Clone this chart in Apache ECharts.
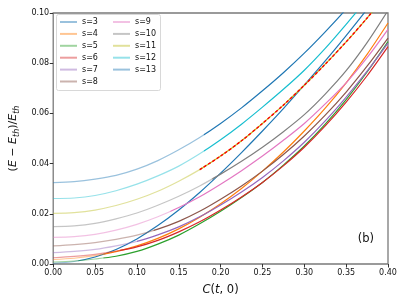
<!DOCTYPE html>
<html><head><meta charset="utf-8">
<script src="https://cdn.jsdelivr.net/npm/echarts@6/dist/echarts.min.js"></script>
<style>html,body{margin:0;padding:0;background:#fff}#c{width:407px;height:305px}</style>
</head><body><div id="c"></div>
<script>
// x positions where values were read
const xs = [0, 0.025, 0.05, 0.075, 0.10, 0.125, 0.15, 0.175, 0.20, 0.225, 0.25, 0.275, 0.30, 0.325, 0.35, 0.375, 0.40];
const sLabels = ['s=3','s=4','s=5','s=6','s=7','s=8','s=9','s=10','s=11','s=12','s=13'];
const y_s3  = [0.0003,0.0010,0.0028,0.0058,0.0100,0.0153,0.0215,0.0285,0.0362,0.0444,0.0530,0.0619,0.0713,0.0809,0.0910,0.1015,0.1125];
const y_s4  = [0.0018,0.0023,0.0033,0.0049,0.0072,0.0102,0.0140,0.0186,0.0240,0.0301,0.0370,0.0446,0.0530,0.0621,0.0722,0.0835,0.0960];
const y_s5  = [0.0008,0.0012,0.0020,0.0031,0.0050,0.0079,0.0115,0.0160,0.0210,0.0265,0.0325,0.0394,0.0470,0.0557,0.0655,0.0765,0.0886];
const y_s6  = [0.0025,0.0030,0.0038,0.0051,0.0068,0.0094,0.0128,0.0168,0.0215,0.0267,0.0325,0.0391,0.0465,0.0550,0.0645,0.0750,0.0866];
const y_s7  = [0.0045,0.0050,0.0058,0.0072,0.0090,0.0116,0.0148,0.0188,0.0235,0.0287,0.0345,0.0411,0.0485,0.0570,0.0665,0.0768,0.0880];
const y_s8  = [0.0072,0.0077,0.0085,0.0098,0.0115,0.0139,0.0170,0.0210,0.0258,0.0311,0.0370,0.0436,0.0510,0.0593,0.0685,0.0788,0.0900];
const y_s9  = [0.0106,0.0109,0.0118,0.0135,0.0158,0.0188,0.0225,0.0268,0.0318,0.0372,0.0430,0.0493,0.0560,0.0638,0.0722,0.0822,0.0935];
const y_s10 = [0.0149,0.0152,0.0162,0.0180,0.0203,0.0234,0.0270,0.0311,0.0358,0.0409,0.0465,0.0527,0.0595,0.0677,0.0770,0.0882,0.1010];
const y_s11 = [0.0202,0.0205,0.0215,0.0233,0.0258,0.0290,0.0330,0.0376,0.0430,0.0491,0.0560,0.0633,0.0712,0.0796,0.0885,0.0980,0.1080];
const y_s12 = [0.0261,0.0263,0.0273,0.0292,0.0318,0.0351,0.0390,0.0439,0.0495,0.0557,0.0625,0.0696,0.0772,0.0859,0.0955,0.1055,0.1160];
const y_s13 = [0.0324,0.0328,0.0338,0.0353,0.0378,0.0412,0.0455,0.0504,0.0560,0.0622,0.0690,0.0762,0.0840,0.0925,0.1015,0.1110,0.1210];
// x where each curve turns from faint to full
const solidFrom = [0.03, 0.06, 0.06, 0.08, 0.10, 0.12, 0.14, 0.19, 0.175, 0.18, 0.18];
// red dashed curve over s=11
const fitX = [0.175, 0.20, 0.225, 0.25, 0.275, 0.30, 0.325, 0.35, 0.375, 0.40];
const fitY = [0.0376, 0.0430, 0.0491, 0.0560, 0.0633, 0.0712, 0.0796, 0.0885, 0.0980, 0.1080];

const allY = [y_s3,y_s4,y_s5,y_s6,y_s7,y_s8,y_s9,y_s10,y_s11,y_s12,y_s13];
const colors = ['#1f77b4','#ff7f0e','#2ca02c','#d62728','#9467bd','#8c564b','#e377c2','#7f7f7f','#bcbd22','#17becf','#1f77b4'];
function fade(hex, a){const n=parseInt(hex.slice(1),16);return 'rgba('+(n>>16)+','+((n>>8)&255)+','+(n&255)+','+a+')';}

function buildSeries(gradFn){
  const series = allY.map((ys, i) => ({
    name: sLabels[i], type: 'line', symbol: 'none', showSymbol: false, smooth: 0.3,
    lineStyle: {width: 1.2, color: gradFn ? gradFn(i) : colors[i]},
    itemStyle: {color: fade(colors[i], 0.55)},
    data: xs.map((x, k) => [x, ys[k]]), z: 2
  }));
  series.push({
    name: 'fit', type: 'line', symbol: 'none', showSymbol: false, smooth: 0.3,
    lineStyle: {width: 1.4, color: '#ff0000', type: [3, 2]},
    data: fitX.map((x, k) => [x, fitY[k]]), z: 3
  });
  return series;
}

const chart = echarts.init(document.getElementById('c'), null, {renderer: 'canvas'});
const font = 'DejaVu Sans';
const legendCommon = {orient: 'vertical', top: 18, itemWidth: 17, itemHeight: 8, itemGap: 3.9, padding: 0, z: 30,
  itemStyle: {opacity: 0},
  textStyle: {fontSize: 8, fontFamily: font, color: '#111', lineHeight: 8}};
chart.setOption({
  animation: false,
  textStyle: {fontFamily: font},
  grid: {left: 53, right: 19, top: 13, bottom: 41, show: true, borderColor: '#7a7a7a', borderWidth: 1.3, backgroundColor: 'transparent'},
  xAxis: {
    type: 'value', min: 0, max: 0.4, interval: 0.05,
    axisLine: {show: false}, splitLine: {show: false},
    axisTick: {show: true, length: 3.5, lineStyle: {color: '#333'}},
    axisLabel: {fontSize: 8, color: '#111', margin: 5, fontFamily: font, formatter: v => v.toFixed(2)},
    name: '{i|C}{n|(}{i|t}{n|, 0)}', nameLocation: 'middle', nameGap: 20,
    nameTextStyle: {rich: {i: {fontSize: 11.5, fontStyle: 'italic', fontFamily: font, color: '#111'}, n: {fontSize: 11.5, fontFamily: font, color: '#111'}}}
  },
  yAxis: {
    type: 'value', min: 0, max: 0.1, interval: 0.02,
    axisLine: {show: false}, splitLine: {show: false},
    axisTick: {show: true, length: 3.5, lineStyle: {color: '#333'}},
    axisLabel: {fontSize: 8, color: '#111', margin: 4, fontFamily: font, formatter: v => v.toFixed(2)},
    name: '{n|(}{i|E}{n| − }{i|E}{s|th}{n|)/}{i|E}{s|th}', nameLocation: 'middle', nameGap: 29,
    nameTextStyle: {rich: {
      i: {fontSize: 11, fontStyle: 'italic', fontFamily: font, color: '#111'},
      n: {fontSize: 11, fontFamily: font, color: '#111'},
      s: {fontSize: 8, fontStyle: 'italic', fontFamily: font, color: '#111', padding: [6, 0, 0, 0]}
    }}
  },
  legend: [
    Object.assign({data: sLabels.slice(0, 6), left: 59}, legendCommon),
    Object.assign({data: sLabels.slice(6), left: 112}, legendCommon)
  ],
  graphic: [
    {type: 'rect', left: 56, top: 14, shape: {width: 104, height: 76, r: 2}, style: {fill: 'rgba(255,255,255,0.8)', stroke: '#d8d8d8', lineWidth: 1}, z: 20, silent: true},
    {type: 'text', right: 33, top: 233, style: {text: '(b)', font: '11.5px DejaVu Sans', fill: '#111'}, z: 60}
  ],
  series: buildSeries(null)
});
// faint-to-full colour switch placed through the x scale
chart.setOption({series: buildSeries(i => {
  const px = chart.convertToPixel({xAxisIndex: 0}, solidFrom[i]);
  return new echarts.graphic.LinearGradient(px - 0.5, 0, px + 0.5, 0,
    [{offset: 0, color: fade(colors[i], 0.45)}, {offset: 1, color: colors[i]}], true);
})});
</script></body></html>
